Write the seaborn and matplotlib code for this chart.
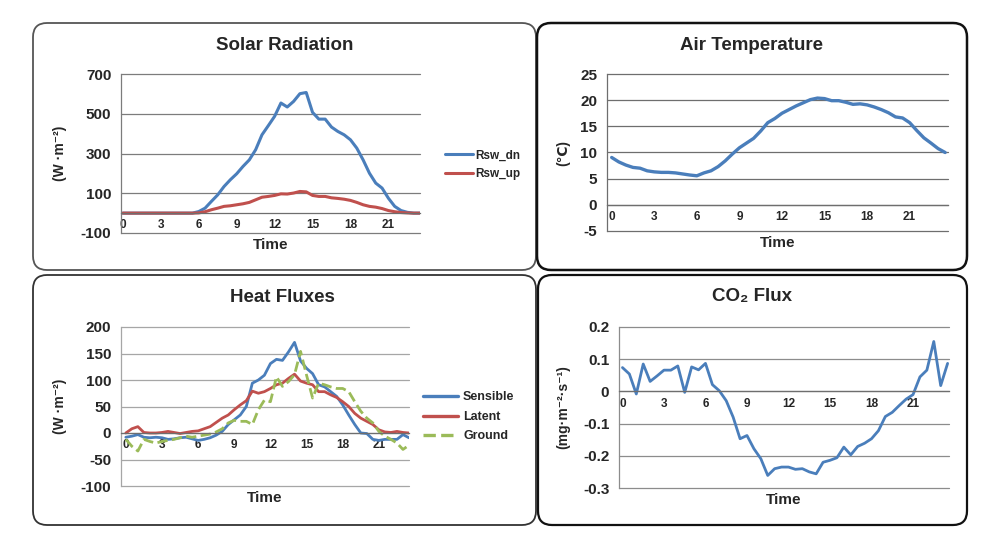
import matplotlib
matplotlib.use("Agg")
import matplotlib.pyplot as plt
import seaborn as sns
import pandas as pd
from matplotlib.patches import FancyBboxPatch
from matplotlib.transforms import IdentityTransform
from matplotlib.ticker import FixedLocator, MultipleLocator, FuncFormatter

# ---------------- data (half-hourly, 0 .. 23.5 h) ----------------
hours = [i * 0.5 for i in range(48)]
xtick_pos = [0, 3, 6, 9, 12, 15, 18, 21]
xtick_labels = ["0", "3", "6", "9", "12", "15", "18", "21"]

rsw_dn = [0, 0, 0, 0, 0, 0, 0, 0, 0, 0, 0, 0,
          8, 25, 59, 92, 134, 168, 198, 235, 268, 319, 394, 440,
          487, 554, 534, 562, 601, 607, 507, 473, 473, 433, 411, 394,
          369, 327, 268, 201, 151, 126, 75, 34, 13, 4, 0, 0]
rsw_up = [0, 0, 0, 0, 0, 0, 0, 0, 0, 0, 0, 0,
          1, 7, 17, 25, 34, 37, 42, 47, 54, 67, 80, 84,
          89, 97, 96, 101, 109, 107, 89, 84, 84, 77, 74, 70,
          64, 54, 42, 34, 30, 23, 13, 7, 3, 1, 0, 0]

air_temp = [9.05, 8.2, 7.6, 7.15, 7.0, 6.5, 6.3, 6.2, 6.2, 6.1, 5.9, 5.7,
            5.55, 6.1, 6.5, 7.3, 8.4, 9.7, 10.9, 11.8, 12.7, 14.1, 15.7, 16.5,
            17.5, 18.2, 18.9, 19.5, 20.1, 20.4, 20.3, 19.9, 19.9, 19.6, 19.2, 19.3,
            19.1, 18.7, 18.2, 17.6, 16.8, 16.6, 15.7, 14.2, 12.8, 11.8, 10.75, 10.0]

sensible = [-8, -6, -3, -8, -9, -8, -9, -12, -11, -9, -8, -11,
            -14, -12, -9, -4, 3, 16, 25, 34, 50, 94, 100, 109,
            131, 139, 137, 153, 171, 136, 122, 112, 91, 87, 78, 69,
            53, 34, 16, 0, -1, -12, -14, -12, -12, -12, -3, -9]
latent = [0, 8, 12, 1, 0, 0, 1, 3, 1, -1, 1, 3,
          4, 8, 12, 20, 28, 34, 44, 53, 61, 79, 75, 78,
          84, 91, 94, 103, 111, 98, 94, 91, 78, 78, 72, 67,
          59, 50, 37, 28, 22, 16, 6, 2, 1, 3, 1, 0]
ground = [-12, -25, -34, -12, -16, -19, -16, -14, -12, -9, -6, -8,
          -6, -4, -2, 2, 8, 19, 24, 22, 22, 16, 44, 62,
          59, 106, 88, 97, 110, 154, 109, 66, 94, 91, 87, 84,
          84, 78, 59, 41, 28, 19, 3, -6, -12, -19, -31, -23]

co2_flux = [0.074, 0.054, -0.008, 0.085, 0.031, 0.048, 0.066, 0.066, 0.079, -0.003, 0.076, 0.067,
            0.087, 0.021, 0.002, -0.029, -0.080, -0.147, -0.137, -0.178, -0.209, -0.261, -0.240, -0.235,
            -0.235, -0.242, -0.240, -0.250, -0.256, -0.220, -0.214, -0.206, -0.173, -0.197, -0.171, -0.161,
            -0.147, -0.122, -0.078, -0.065, -0.044, -0.024, -0.010, 0.045, 0.066, 0.155, 0.018, 0.087]

BLUE = "#4a7ebb"
RED = "#c0504d"
GREEN = "#9bbb59"

# ---------------- figure ----------------
sns.set_style("white")
plt.rcParams["font.family"] = ["Liberation Sans", "DejaVu Sans"]
plt.rcParams["axes.unicode_minus"] = False

W, H = 988, 549
fig = plt.figure(figsize=(W / 100, H / 100), dpi=100)
fig.patch.set_facecolor("white")


def rect(l, t, r, b):
    return [l / W, 1 - b / H, (r - l) / W, (b - t) / H]


# rounded panel frames (pixel coordinates)
boxes = [(33, 23, 536, 270, 1.3, "#555555"), (537, 23, 967, 270, 1.8, "#111111"),
         (33, 275, 536, 525, 1.3, "#333333"), (538, 275, 967, 525, 1.6, "#111111")]
for x0, y0, x1, y1, lw, ec in boxes:
    p = FancyBboxPatch((x0, H - y1), x1 - x0, y1 - y0,
                       boxstyle="round,pad=0,rounding_size=14",
                       transform=IdentityTransform(), fill=False, ec=ec, lw=lw)
    fig.add_artist(p)


def style_ax(ax, ylim, yticks, xlim, ylabel, ylab_x, grid_color, fmt=None):
    ax.set_xlim(*xlim)
    ax.set_ylim(*ylim)
    ax.set_yticks(yticks)
    if fmt is not None:
        ax.yaxis.set_major_formatter(FuncFormatter(fmt))
    ax.yaxis.grid(True, color=grid_color, lw=0.9)
    ax.xaxis.grid(False)
    ax.set_axisbelow(True)
    for s in ["top", "right"]:
        ax.spines[s].set_visible(False)
    ax.spines["left"].set_color(grid_color)
    ax.spines["left"].set_linewidth(0.9)
    ax.spines["bottom"].set_position(("data", 0))
    ax.spines["bottom"].set_color("#6e6e6e")
    ax.spines["bottom"].set_linewidth(0.9)
    ax.xaxis.set_major_locator(FixedLocator(xtick_pos))
    ax.set_xticklabels(xtick_labels)
    ax.xaxis.set_minor_locator(MultipleLocator(0.5))
    ax.tick_params(axis="x", which="both", direction="in", length=3.5,
                   width=0.8, color="#6e6e6e", pad=4.5, labelsize=8.5)
    ax.tick_params(axis="y", length=0, pad=7, labelsize=11)
    for lbl in ax.get_xticklabels() + ax.get_yticklabels():
        lbl.set_fontweight("bold")
    for gl in ax.get_ygridlines():
        gl.set_clip_on(False)
    ax.set_xlabel("Time", fontsize=11, fontweight="bold")
    ax.xaxis.set_label_coords(0.5, -0.075)
    ax.xaxis.label.set_va("center")
    ax.set_ylabel(ylabel, fontsize=10, fontweight="bold")
    ax.yaxis.set_label_coords(ylab_x, 0.5)
    ax.yaxis.label.set_va("center")


def draw(ax, y, color, label=None, ls="-", lw=2.0):
    df = pd.DataFrame({"Time": hours, "value": y})
    sns.lineplot(data=df, x="Time", y="value", ax=ax, color=color,
                 label=label, linestyle=ls, linewidth=lw, legend=False)


# ---- Solar Radiation ----
ax1 = fig.add_axes(rect(121, 74, 420, 233))
draw(ax1, rsw_dn, BLUE, "Rsw_dn", lw=2.2)
draw(ax1, rsw_up, RED, "Rsw_up", lw=2.2)
style_ax(ax1, (-100, 700), [-100, 100, 300, 500, 700], (-0.15, 23.5),
         "(W ·m⁻²)", -0.204, "#7c7c7c")
leg1 = ax1.legend(loc="center left", bbox_to_anchor=(1.084, 0.43), frameon=False,
                  fontsize=8.5, handlelength=2.4, handletextpad=0.15,
                  labelspacing=0.55, borderpad=0, borderaxespad=0)
for t in leg1.get_texts():
    t.set_fontweight("bold")

# ---- Air Temperature ----
ax2 = fig.add_axes(rect(607, 74, 948, 231))
draw(ax2, air_temp, BLUE, lw=2.4)
style_ax(ax2, (-5, 25), [-5, 0, 5, 10, 15, 20, 25], (-0.33, 23.7),
         "(℃)", -0.129, "#6e6e6e")

# ---- Heat Fluxes ----
ax3 = fig.add_axes(rect(121, 327, 409, 486))
draw(ax3, sensible, BLUE, "Sensible", lw=2.0)
draw(ax3, latent, RED, "Latent", lw=2.0)
draw(ax3, ground, GREEN, "Ground", ls="--", lw=2.0)
style_ax(ax3, (-100, 200), [-100, -50, 0, 50, 100, 150, 200], (-0.4, 23.5),
         "(W ·m⁻²)", -0.212, "#a6a6a6")
leg3 = ax3.legend(loc="center left", bbox_to_anchor=(1.049, 0.434), frameon=False,
                  fontsize=9, handlelength=2.8, handletextpad=0.4,
                  labelspacing=0.6, borderpad=0, borderaxespad=0)
for t in leg3.get_texts():
    t.set_fontweight("bold")
for ln in leg3.get_lines():
    ln.set_linewidth(2.4)

# ---- CO2 Flux ----
ax4 = fig.add_axes(rect(619, 327, 949, 488))
draw(ax4, co2_flux, BLUE, lw=2.0)
style_ax(ax4, (-0.3, 0.2), [-0.3, -0.2, -0.1, 0.0, 0.1, 0.2], (-0.25, 23.6),
         "(mg·m⁻²·s⁻¹)", -0.17, "#8c8c8c",
         fmt=lambda v, p: "0" if abs(v) < 1e-9 else f"{v:.1f}")
for lbl in ax4.get_yticklabels():
    lbl.set_fontweight("bold")

# ---- titles ----
titles = [("Solar Radiation", 284.5, 45), ("Air Temperature", 752, 45),
          ("Heat Fluxes", 282, 297), ("CO₂ Flux", 752, 297)]
for txt, x, y in titles:
    fig.text(x / W, 1 - y / H, txt, ha="center", va="center",
             fontsize=13.5, fontweight="bold")

fig.savefig("out.png", dpi=100, facecolor="white")
